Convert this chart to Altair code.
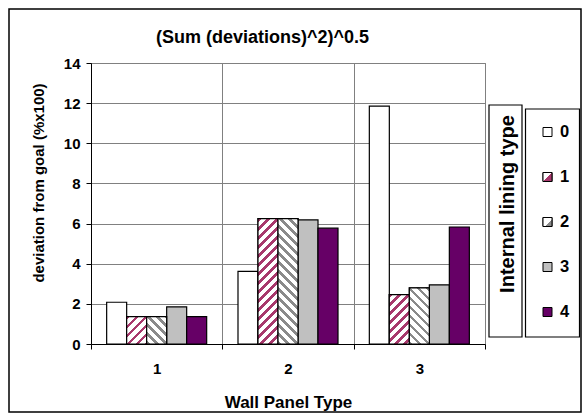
import altair as alt
import pandas as pd

# ---- data -------------------------------------------------------------
wall_panel_types = ["1", "2", "3"]
lining_types = ["0", "1", "2", "3", "4"]
dev_lining_0 = [2.08, 3.62, 11.85]
dev_lining_1 = [1.36, 6.25, 2.46]
dev_lining_2 = [1.36, 6.25, 2.80]
dev_lining_3 = [1.85, 6.18, 2.95]
dev_lining_4 = [1.36, 5.77, 5.83]
y_ticks = [0, 2, 4, 6, 8, 10, 12, 14]

series = [dev_lining_0, dev_lining_1, dev_lining_2, dev_lining_3, dev_lining_4]
rows = [
    {"panel": p, "lining": lin, "dev": v}
    for lin, vals in zip(lining_types, series)
    for p, v in zip(wall_panel_types, vals)
]
df = pd.DataFrame(rows)
df_legend = pd.DataFrame({"lining": lining_types})

# ---- layout / style ---------------------------------------------------
FONT = "Liberation Sans"
PLOT_W, PLOT_H = 394, 281
Y_MAX = 14
OFFSET_PAD = 0.783
BAR_W = PLOT_W / len(wall_panel_types) / (len(lining_types) + 2 * OFFSET_PAD)

PINK = "#A8386C"
STRIPE_GRAY = "#8A8A8A"
SILVER = "#C0C0C0"
PURPLE = "#660066"
GRID = "#808080"

color_scale = alt.Scale(domain=lining_types, range=["white", PINK, "white", SILVER, PURPLE])


def stripe_fill(w, h, color, rising, period=9.0, frac=0.4):
    """Diagonal hatch as a hard-stop linear gradient sized to a w x h box."""
    k = (w + h) / (w * w + h * h)
    n = (w + h) / period
    stops = []
    i = 0
    while i / n < 1:
        a = i / n
        b = min((i + frac) / n, 1.0)
        c = min((i + 1) / n, 1.0)
        stops += [(a, color), (b, color), (b, "white"), (c, "white")]
        i += 1
    if rising:
        x1, y1, x2, y2 = 0, 0, k * w, k * h
    else:
        x1, y1, x2, y2 = 0, 1, k * w, 1 - k * h
    return alt.LinearGradient(
        gradient="linear", x1=x1, y1=y1, x2=x2, y2=y2,
        stops=[alt.GradientStop(offset=o, color=col) for o, col in stops],
    )


def corner_fill(color, split):
    """Two-tone swatch: white upper-left, colour lower-right."""
    return alt.LinearGradient(
        gradient="linear", x1=0, y1=0, x2=1, y2=1,
        stops=[
            alt.GradientStop(offset=0, color="white"),
            alt.GradientStop(offset=split, color="white"),
            alt.GradientStop(offset=split, color=color),
            alt.GradientStop(offset=1, color=color),
        ],
    )


x_enc = alt.X(
    "panel:N",
    sort=wall_panel_types,
    scale=alt.Scale(domain=wall_panel_types, paddingInner=0, paddingOuter=0),
    axis=alt.Axis(
        labelAngle=0, tickBand="extent", grid=True, gridColor=GRID,
        domainColor="black", tickColor="black", tickSize=5,
        labelPadding=12, labelFontSize=15, labelFontWeight="bold", labelColor="black",
        titleFontSize=17, titleFontWeight="bold", titleColor="black",
        titleY=63, titleBaseline="alphabetic",
    ),
    title="Wall Panel Type",
)
xoff_enc = alt.XOffset(
    "lining:N",
    scale=alt.Scale(domain=lining_types, paddingInner=0, paddingOuter=OFFSET_PAD),
)
y_enc = alt.Y(
    "dev:Q",
    scale=alt.Scale(domain=[0, Y_MAX], nice=False),
    axis=alt.Axis(
        values=y_ticks, format="d", grid=True, gridColor=GRID,
        domainColor="black", tickColor="black", tickSize=5,
        labelPadding=6, labelFontSize=15, labelFontWeight="bold", labelColor="black",
        titleFontSize=15, titleFontWeight="bold", titleColor="black",
        titleX=-53, titleY=119.5, titleBaseline="middle", titleAlign="center",
    ),
    title="deviation from goal (%x100)",
)

bars = alt.Chart(df).mark_bar(stroke="black", strokeWidth=1.2).encode(
    x=x_enc, xOffset=xoff_enc, y=y_enc,
    color=alt.Color("lining:N", scale=color_scale, legend=None),
)

# hatched overlays for lining types 1 (rising, pink) and 2 (falling, gray)
hatch_layers = []
for lin, vals, color, rising in [("1", dev_lining_1, PINK, True),
                                 ("2", dev_lining_2, STRIPE_GRAY, False)]:
    for panel, v in zip(wall_panel_types, vals):
        hatch_layers.append(
            alt.Chart(df)
            .transform_filter((alt.datum.lining == lin) & (alt.datum.panel == panel))
            .mark_bar(
                fill=stripe_fill(BAR_W, v * PLOT_H / Y_MAX, color, rising),
                stroke="black", strokeWidth=1.2,
            )
            .encode(x=x_enc, xOffset=xoff_enc, y=y_enc)
        )

plot = alt.layer(bars, *hatch_layers)

# ---- legend, drawn as marks -------------------------------------------
one_row = alt.Data(values=[{}])

legend_y = alt.Y(
    "lining:N",
    scale=alt.Scale(type="point", domain=lining_types, range=[69, 249], padding=0),
    axis=None,
)
legend_box = alt.Chart(one_row).mark_rect(
    fill="white", stroke="black", strokeWidth=1.2
).encode(x=alt.value(434.5), x2=alt.value(488.5), y=alt.value(46), y2=alt.value(274))

swatches = alt.Chart(df_legend).mark_square(
    size=81, stroke="black", strokeWidth=1, opacity=1
).encode(
    x=alt.value(456.5), y=legend_y,
    fill=alt.Fill("lining:N", scale=color_scale, legend=None),
)
swatch_patterns = [
    alt.Chart(df_legend)
    .transform_filter(alt.datum.lining == lin)
    .mark_square(size=81, stroke="black", strokeWidth=1, opacity=1,
                 fill=corner_fill(col, split))
    .encode(x=alt.value(456.5), y=legend_y)
    for lin, col, split in [("1", PINK, 0.5), ("2", STRIPE_GRAY, 0.6)]
]
legend_labels = alt.Chart(df_legend).mark_text(
    font=FONT, fontSize=16.5, fontWeight="bold", align="left",
    baseline="middle", color="black",
).encode(x=alt.value(469), y=legend_y, text="lining:N")

legend_layer = alt.layer(legend_box, swatches, *swatch_patterns, legend_labels)

legend_title_box = alt.Chart(one_row).mark_rect(
    fill="white", stroke="black", strokeWidth=1.2
).encode(x=alt.value(398), x2=alt.value(431), y=alt.value(42), y2=alt.value(274))

legend_title_text = alt.Chart(one_row).mark_text(
    text="Internal lining type", angle=270, font=FONT, fontSize=20,
    fontWeight="bold", align="center", baseline="middle", color="black",
).encode(x=alt.value(416.5), y=alt.value(141))

chart_title = alt.Chart(one_row).mark_text(
    text="(Sum (deviations)^2)^0.5", font=FONT, fontSize=18, fontWeight="bold",
    align="center", baseline="alphabetic", color="black",
).encode(x=alt.value(171.5), y=alt.value(-20))

frame = alt.Chart(one_row).mark_rect(
    fill="transparent", stroke="black", strokeWidth=1.5
).encode(x=alt.value(-82), x2=alt.value(490), y=alt.value(-54), y2=alt.value(349))

chart = (
    alt.layer(frame, chart_title, plot, legend_title_box, legend_title_text, legend_layer)
    .resolve_scale(y="independent")
    .properties(
        width=PLOT_W,
        height=PLOT_H,
        autosize=alt.AutoSizeParams(type="none"),
        padding={"left": 91, "top": 63, "right": 98, "bottom": 72},
        background="white",
    )
    .configure_view(stroke=GRID)
    .configure_axis(labelFont=FONT, titleFont=FONT)
)

chart.save("out.html", embed_options={"renderer": "svg", "actions": False})
